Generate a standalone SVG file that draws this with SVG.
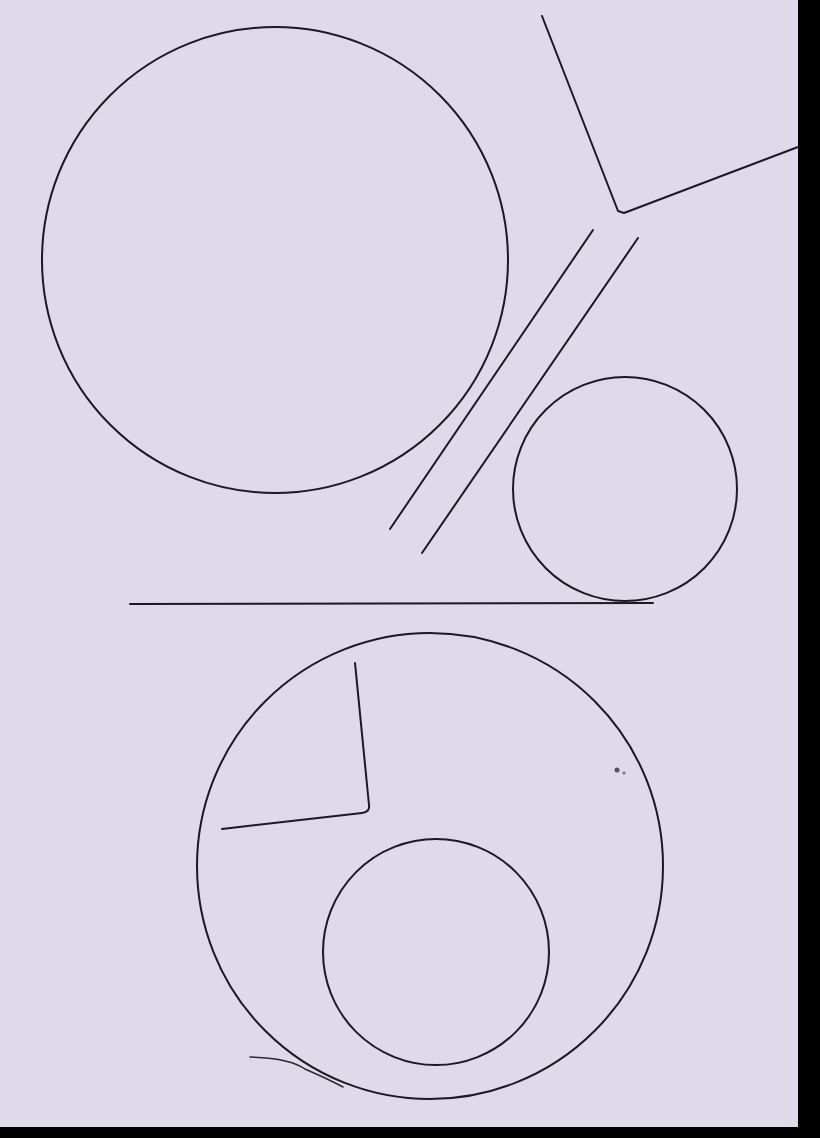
<svg xmlns="http://www.w3.org/2000/svg" width="820" height="1138" viewBox="0 0 820 1138">
<style>
.s{fill:none;stroke:#1a1a22;stroke-width:2;stroke-linecap:round;stroke-linejoin:round}
.t{fill:none;stroke:#2a2a33;stroke-width:1.5;stroke-linecap:round}
</style>
<rect x="0" y="0" width="820" height="1138" fill="#000"/>
<rect x="0" y="0" width="798" height="1127" fill="#dedaea"/>
<g id="top-big-circle"><circle class="s" cx="275" cy="260" r="233"/></g>
<g id="top-angle"><polyline class="s" points="542,16 618,211 624,213 798,147"/></g>
<g id="parallel-lines">
<line class="s" x1="593" y1="230" x2="390" y2="529"/>
<line class="s" x1="638" y1="238" x2="422" y2="553"/>
</g>
<g id="top-small-circle"><circle class="s" cx="625" cy="489" r="112"/></g>
<g id="horizontal-line"><line class="s" x1="130" y1="604" x2="653" y2="603"/></g>
<g id="bottom-big-circle"><circle class="s" cx="430" cy="866" r="233"/></g>
<g id="bottom-angle"><path class="s" d="M355,663 L369,805 Q370,812 362,813 L222,829"/></g>
<g id="bottom-small-circle"><circle class="s" cx="436" cy="952" r="113"/></g>
<g id="stray-stroke"><path class="t" d="M250,1057 Q290,1058 305,1069 Q330,1080 343,1087"/></g>
<circle cx="617" cy="770" r="2.5" fill="#55525e"/>
<circle cx="624" cy="773" r="1.5" fill="#77737f"/>
</svg>
